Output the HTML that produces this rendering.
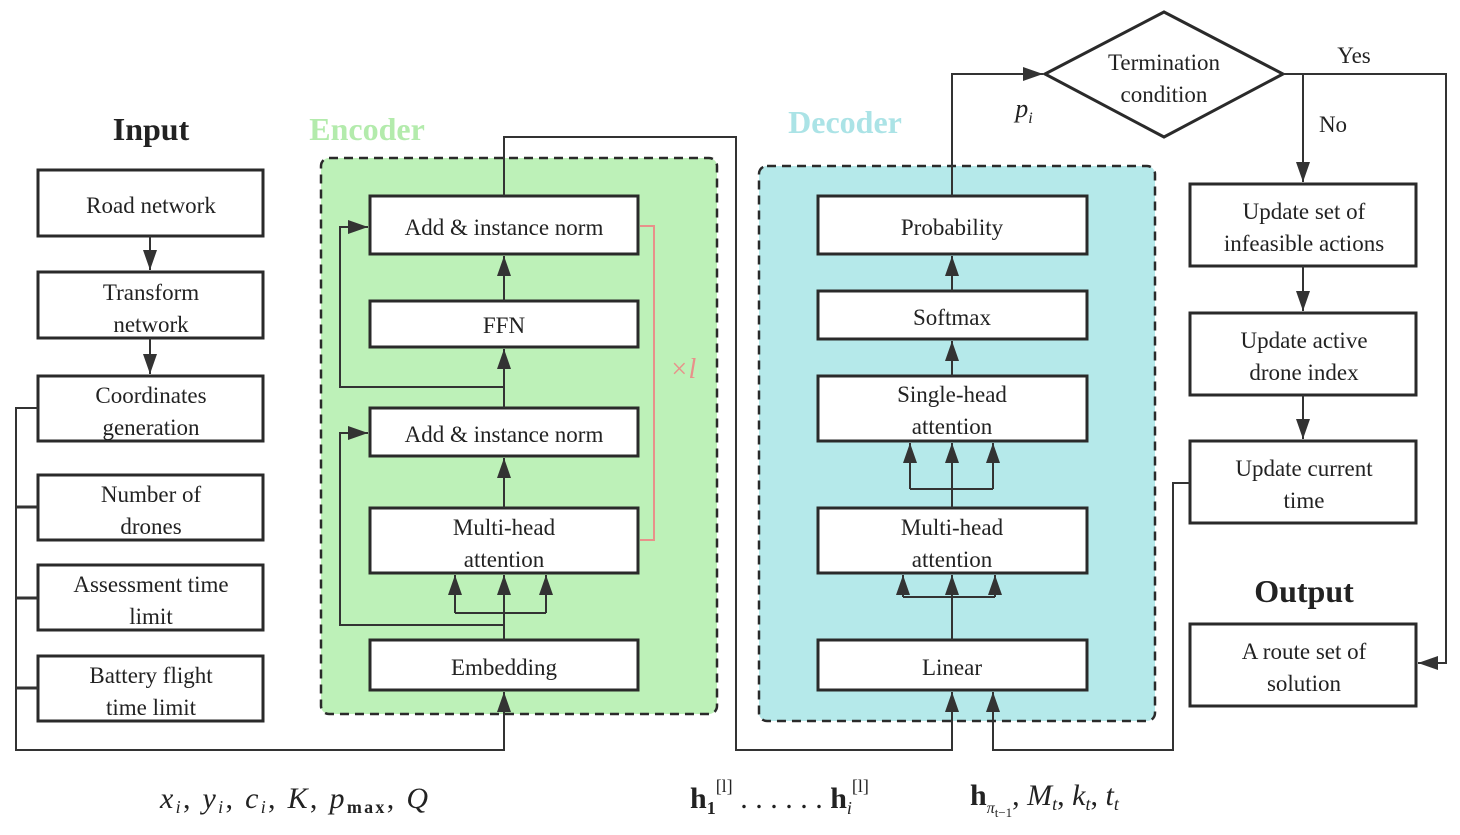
<!DOCTYPE html>
<html><head><style>body{margin:0;background:#fff}svg{display:block}svg text{font-family:'Liberation Serif','DejaVu Serif',serif;fill:#222}</style></head><body>
<svg width="1460" height="835" viewBox="0 0 1460 835" xmlns="http://www.w3.org/2000/svg" font-family="Liberation Serif, DejaVu Serif, serif">
<defs>
<marker id="b" markerWidth="20" markerHeight="16" refX="20" refY="8" orient="auto" markerUnits="userSpaceOnUse"><path d="M0,1L20,8L0,15z" fill="#333"/></marker></defs>
<g font-size="32" font-weight="bold" text-anchor="middle">
<text x="151" y="140">Input</text>
<text x="367" y="140" style="fill:#b3ebac">Encoder</text>
<text x="845" y="133" style="fill:#abe3e6">Decoder</text>
<text x="1304" y="602">Output</text>
</g>
<rect x="321" y="158" width="396" height="556" rx="8" fill="#bdf1b8" stroke="#2a2a2a" stroke-width="2.5" stroke-dasharray="9,6"/>
<rect x="759" y="166" width="396" height="555" rx="8" fill="#b5e9ea" stroke="#2a2a2a" stroke-width="2.5" stroke-dasharray="9,6"/>
<g fill="#fff" stroke="#2a2a2a" stroke-width="3">
<rect x="38" y="170" width="225" height="66"/><rect x="38" y="272" width="225" height="66"/><rect x="38" y="376" width="225" height="65"/>
<rect x="38" y="475" width="225" height="65"/><rect x="38" y="565" width="225" height="65"/><rect x="38" y="656" width="225" height="65"/>
<rect x="370" y="196" width="268" height="58"/><rect x="370" y="301" width="268" height="46"/><rect x="370" y="408" width="268" height="48"/>
<rect x="370" y="508" width="268" height="65"/><rect x="370" y="640" width="268" height="50"/>
<rect x="818" y="196" width="269" height="58"/><rect x="818" y="291" width="269" height="48"/><rect x="818" y="376" width="269" height="65"/>
<rect x="818" y="508" width="269" height="65"/><rect x="818" y="640" width="269" height="50"/>
<rect x="1190" y="184" width="226" height="82"/><rect x="1190" y="313" width="226" height="82"/><rect x="1190" y="441" width="226" height="82"/><rect x="1190" y="624" width="226" height="82"/>
<path d="M1045,74L1164,12L1283,74L1164,137Z"/>
</g>
<g fill="none" stroke="#333" stroke-width="2">
<path d="M38,408H16V750H504V692" marker-end="url(#b)"/>
<path d="M16,507H38M16,598H38M16,688H38" stroke-width="3"/>
<path d="M150,236V270" marker-end="url(#b)"/><path d="M150,338V374" marker-end="url(#b)"/>
<path d="M504,640V575" /><path d="M455,613H546"/>
<path d="M455,613V575" marker-end="url(#b)"/><path d="M504,613V575" marker-end="url(#b)"/><path d="M546,613V575" marker-end="url(#b)"/>
<path d="M504,625H340V433H368" marker-end="url(#b)"/>
<path d="M504,508V458" marker-end="url(#b)"/>
<path d="M504,408V349" marker-end="url(#b)"/>
<path d="M504,387H340V227H368" marker-end="url(#b)"/>
<path d="M504,301V256" marker-end="url(#b)"/>
<path d="M504,196V137H736V750H952V692" marker-end="url(#b)"/>
<path d="M640,226H654V540H640" stroke="#e8918a"/>
<path d="M952,640V597M903,597H995"/>
<path d="M903,597V575" marker-end="url(#b)"/><path d="M952,597V575" marker-end="url(#b)"/><path d="M995,597V575" marker-end="url(#b)"/>
<path d="M952,508V489M910,489H993"/>
<path d="M910,489V443" marker-end="url(#b)"/><path d="M952,489V443" marker-end="url(#b)"/><path d="M993,489V443" marker-end="url(#b)"/>
<path d="M952,376V341" marker-end="url(#b)"/><path d="M952,291V256" marker-end="url(#b)"/>
<path d="M952,196V74H1043" marker-end="url(#b)"/>
<path d="M1283,74H1446V663H1418" marker-end="url(#b)"/>
<path d="M1303,74V182" marker-end="url(#b)"/>
<path d="M1303,266V311" marker-end="url(#b)"/><path d="M1303,395V439" marker-end="url(#b)"/>
<path d="M1190,483H1173V750H993V692" marker-end="url(#b)"/>
</g>
<g font-size="23" text-anchor="middle">
<text x="151" y="213">Road network</text>
<text x="151" y="300">Transform</text><text x="151" y="332">network</text>
<text x="151" y="403">Coordinates</text><text x="151" y="435">generation</text>
<text x="151" y="502">Number of</text><text x="151" y="534">drones</text>
<text x="151" y="592">Assessment time</text><text x="151" y="624">limit</text>
<text x="151" y="683">Battery flight</text><text x="151" y="715">time limit</text>
<text x="504" y="235">Add &amp; instance norm</text>
<text x="504" y="333">FFN</text>
<text x="504" y="442">Add &amp; instance norm</text>
<text x="504" y="535">Multi-head</text><text x="504" y="567">attention</text>
<text x="504" y="675">Embedding</text>
<text x="952" y="235">Probability</text>
<text x="952" y="325">Softmax</text>
<text x="952" y="402">Single-head</text><text x="952" y="434">attention</text>
<text x="952" y="535">Multi-head</text><text x="952" y="567">attention</text>
<text x="952" y="675">Linear</text>
<text x="1164" y="70">Termination</text><text x="1164" y="102">condition</text>
<text x="1304" y="219">Update set of</text><text x="1304" y="251">infeasible actions</text>
<text x="1304" y="348">Update active</text><text x="1304" y="380">drone index</text>
<text x="1304" y="476">Update current</text><text x="1304" y="508">time</text>
<text x="1304" y="659">A route set of</text><text x="1304" y="691">solution</text>
<text x="1354" y="63">Yes</text><text x="1333" y="132">No</text>
</g>
<text x="683" y="378" font-size="28" font-style="italic" text-anchor="middle" style="fill:#e8918a">×l</text>
<text x="1024" y="117" font-size="26" font-style="italic" text-anchor="middle">p<tspan font-size="16" dy="6">i</tspan></text>
<g font-size="30">
<text x="160" y="808" font-style="italic" textLength="268" lengthAdjust="spacing">x<tspan font-size="18" dy="5">i</tspan><tspan dy="-5" font-style="normal">, </tspan>y<tspan font-size="18" dy="5">i</tspan><tspan dy="-5" font-style="normal">, </tspan>c<tspan font-size="18" dy="5">i</tspan><tspan dy="-5" font-style="normal">, </tspan>K<tspan font-style="normal">, </tspan>p<tspan font-size="18" dy="5" font-weight="bold" font-style="normal">max</tspan><tspan dy="-5" font-style="normal">, </tspan>Q</text>
<text x="690" y="808"><tspan font-weight="bold">h</tspan><tspan font-size="18" dy="6" font-weight="bold">1</tspan><tspan font-size="18" dy="-22">[l]</tspan><tspan dy="16"> . . . . . . </tspan><tspan font-weight="bold">h</tspan><tspan font-size="18" dy="6" font-style="italic">i</tspan><tspan font-size="18" dy="-22">[l]</tspan></text>
<text x="970" y="805"><tspan font-weight="bold">h</tspan><tspan font-size="16" dy="8" font-style="italic">π</tspan><tspan font-size="13" dy="4">t−1</tspan><tspan dy="-12">, </tspan><tspan font-style="italic">M</tspan><tspan font-size="18" dy="5" font-style="italic">t</tspan><tspan dy="-5">, </tspan><tspan font-style="italic">k</tspan><tspan font-size="18" dy="5" font-style="italic">t</tspan><tspan dy="-5">, </tspan><tspan font-style="italic">t</tspan><tspan font-size="18" dy="5" font-style="italic">t</tspan></text>
</g>
</svg>
</body></html>
